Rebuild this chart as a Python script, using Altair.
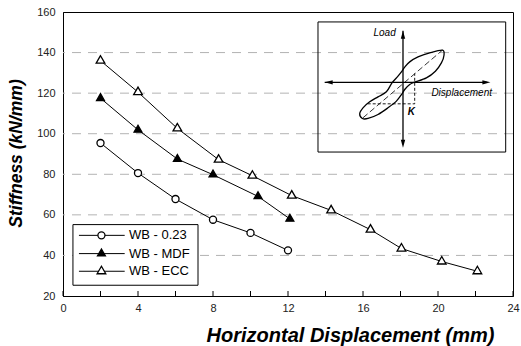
import altair as alt
import pandas as pd

FONT = "Liberation Sans"
W, H = 450, 284

# ---------------- data ----------------
series_names = ["WB - 0.23", "WB - MDF", "WB - ECC"]
x_023 = [2, 4, 6, 8, 10, 12]
y_023 = [95.4, 80.6, 67.8, 57.6, 51.1, 42.5]
x_mdf = [2, 4, 6.1, 8, 10.4, 12.1]
y_mdf = [117.5, 101.9, 87.5, 79.8, 69.1, 58.0]
x_ecc = [2, 4, 6.1, 8.3, 10.1, 12.2, 14.3, 16.4, 18.05, 20.2, 22.1]
y_ecc = [136.0, 120.5, 102.6, 87.2, 79.3, 69.5, 62.2, 52.7, 43.4, 37.0, 32.2]

x_tick_vals = list(range(0, 25, 2))
x_label_vals = [0, 4, 8, 12, 16, 20, 24]
y_label_vals = [20, 40, 60, 80, 100, 120, 140, 160]
grid_vals = [40, 60, 80, 100, 120, 140]

# legend placement (data units)
leg_box_x = [0.53, 7.2]
leg_box_y = [25.3, 55.2]
leg_rows_y = [49.9, 40.9, 32.2]
leg_line_x = [0.85, 3.29]
leg_mark_x = 2.05
leg_text_x = 3.52

# inset schematic (own units), placed on the main axes
inset_cx, inset_cy = 18.133, 125.32
inset_ux, inset_uy = 1 / 18.75, 1 / 2.032
inset_box_u = [-85, 102.7]
inset_box_v = [-69.8, 60.5]
haxis_u = [-78.3, 84.0]
vaxis_v = [-62.0, 51.8]
loop_u = [-40.6, -43.3, -40, -33.3, -25, -16.6, -11, -5, -1, 1.7, 6.7, 15, 26.7, 39.4,
          41, 38.4, 32.4, 23.4, 11.7, 6.7, 1.7, -1, -6.6, -15, -25, -35]
loop_v = [-36.2, -31.5, -25.5, -19.5, -14.5, -9.5, -0.5, 6.2, 11.2, 15.2, 20.5, 25.5, 29.5, 32.2,
          27.2, 19.5, 11.2, 4.5, 0.2, -2.2, -7.2, -11.5, -18.8, -25.5, -32.2, -36.2]
diag_u = [-40, 39.4]
diag_v = [-35.5, 32.2]
tri_u = [-35.3, 11.7, 11.7]
tri_v = [-21.5, -21.5, 9]


def iu(u):
    return [inset_cx + a * inset_ux for a in u]


def iv(v):
    return [inset_cy + b * inset_uy for b in v]


df = pd.concat([
    pd.DataFrame({"series": series_names[0], "x": x_023, "y": y_023}),
    pd.DataFrame({"series": series_names[1], "x": x_mdf, "y": y_mdf}),
    pd.DataFrame({"series": series_names[2], "x": x_ecc, "y": y_ecc}),
])

xs = alt.Scale(domain=[0, 24], nice=False, zero=False)
ys = alt.Scale(domain=[20, 160], nice=False, zero=False)

shape_scale = alt.Scale(domain=series_names, range=["circle", "triangle", "triangle"])
fill_scale = alt.Scale(domain=series_names, range=["white", "black", "white"])
size_scale = alt.Scale(domain=series_names, range=[50, 75, 75])

x_axis = alt.Axis(
    values=x_label_vals, title="Horizontal Displacement (mm)", ticks=False, grid=False,
    domainColor="black", domainWidth=1, labelFontSize=11, labelColor="#222222", labelFont=FONT,
    labelPadding=6, labelFlush=False, labelOverlap=False,
    titleFont=FONT, titleFontSize=20, titleFontWeight="bold", titleFontStyle="italic",
    titleX=287, titleY=45, titleAlign="center", titleBaseline="alphabetic", titleColor="black",
)
y_axis = alt.Axis(
    values=y_label_vals, title="Stiffness (kN/mm)", ticks=False, grid=False,
    domainColor="black", domainWidth=1, labelFontSize=11, labelColor="#222222", labelFont=FONT,
    labelPadding=8, labelFlush=False, labelOverlap=False,
    titleFont=FONT, titleFontSize=17.5, titleFontWeight="bold", titleFontStyle="italic",
    titleX=-42, titleY=141, titleAngle=-90, titleAlign="center", titleBaseline="alphabetic",
    titleColor="black",
)


def X(f="x"):
    return alt.X(f"{f}:Q", scale=xs, axis=x_axis)


def Y(f="y"):
    return alt.Y(f"{f}:Q", scale=ys, axis=y_axis)


grid = alt.Chart(pd.DataFrame({"y": grid_vals})).mark_rule(
    color="#b3b3b3", strokeDash=[9, 7], strokeWidth=1
).encode(y=Y())

ticks = alt.Chart(pd.DataFrame({"x": x_tick_vals})).mark_rule(
    color="black", strokeWidth=1
).encode(x=X(), y=alt.value(H), y2=alt.value(H - 5))

lines = alt.Chart(df).mark_line(color="black", strokeWidth=1).encode(
    x=X(), y=Y(), detail="series:N",
)

points = alt.Chart(df).mark_point(filled=True, stroke="black", strokeWidth=1.3, opacity=1).encode(
    x=X(), y=Y(),
    shape=alt.Shape("series:N", scale=shape_scale, legend=None),
    fill=alt.Fill("series:N", scale=fill_scale, legend=None),
    size=alt.Size("series:N", scale=size_scale, legend=None),
)

# ---------------- inset ----------------
inset_box = alt.Chart(pd.DataFrame({
    "x": [iu(inset_box_u)[0]], "x2": [iu(inset_box_u)[1]],
    "y": [iv(inset_box_v)[0]], "y2": [iv(inset_box_v)[1]],
})).mark_rect(fillOpacity=0, stroke="black", strokeWidth=1).encode(
    x=X(), x2="x2:Q", y=Y(), y2="y2:Q")

haxis = alt.Chart(pd.DataFrame({
    "x": [iu(haxis_u)[0]], "x2": [iu(haxis_u)[1]], "y": [iv([0])[0]]
})).mark_rule(color="black", strokeWidth=1.3).encode(x=X(), x2="x2:Q", y=Y())
vaxis = alt.Chart(pd.DataFrame({
    "x": [iu([0])[0]], "y": [iv(vaxis_v)[0]], "y2": [iv(vaxis_v)[1]]
})).mark_rule(color="black", strokeWidth=1.3).encode(x=X(), y=Y(), y2="y2:Q")

arrow_shapes = {
    "right": ("M-1,-0.55L1,0L-1,0.55Z", 87.4 - 4, 0),
    "left": ("M1,-0.55L-1,0L1,0.55Z", -78.3 + 4, 0),
    "up": ("M-0.55,1L0,-1L0.55,1Z", 0, 51.8 - 4),
    "down": ("M-0.55,-1L0,1L0.55,-1Z", 0, -65.5 + 4),
}
arrows = []
for path, au, av in arrow_shapes.values():
    arrows.append(
        alt.Chart(pd.DataFrame({"x": iu([au]), "y": iv([av])})).mark_point(
            shape=path, filled=True, color="black", size=64, opacity=1
        ).encode(x=X(), y=Y())
    )

loop = alt.Chart(pd.DataFrame({"x": iu(loop_u), "y": iv(loop_v), "o": list(range(len(loop_u)))})).mark_line(
    color="black", strokeWidth=1.3, interpolate="cardinal-closed"
).encode(x=X(), y=Y(), order="o:Q")

diag = alt.Chart(pd.DataFrame({"x": iu(diag_u), "y": iv(diag_v), "o": [0, 1]})).mark_line(
    color="black", strokeWidth=0.8, strokeDash=[6, 3]
).encode(x=X(), y=Y(), order="o:Q")

tri = alt.Chart(pd.DataFrame({"x": iu(tri_u), "y": iv(tri_v), "o": [0, 1, 2]})).mark_line(
    color="black", strokeWidth=0.9, strokeDash=[3, 2]
).encode(x=X(), y=Y(), order="o:Q")

load_text = alt.Chart(pd.DataFrame({"x": iu([-7.3]), "y": iv([49.5]), "t": ["Load"]})).mark_text(
    font=FONT, fontSize=10, fontStyle="italic", baseline="middle", align="right", color="black"
).encode(x=X(), y=Y(), text="t:N")
disp_text = alt.Chart(pd.DataFrame({"x": iu([28.4]), "y": iv([-10.5]), "t": ["Displacement"]})).mark_text(
    font=FONT, fontSize=10, fontStyle="italic", baseline="middle", align="left", color="black"
).encode(x=X(), y=Y(), text="t:N")
k_text = alt.Chart(pd.DataFrame({"x": iu([8.4]), "y": iv([-29.8]), "t": ["K"]})).mark_text(
    font=FONT, fontSize=10, fontStyle="italic", fontWeight="bold", baseline="middle", align="center",
    color="black"
).encode(x=X(), y=Y(), text="t:N")

# ---------------- legend ----------------
leg_box = alt.Chart(pd.DataFrame({
    "x": [leg_box_x[0]], "x2": [leg_box_x[1]], "y": [leg_box_y[0]], "y2": [leg_box_y[1]]
})).mark_rect(fill="white", stroke="black", strokeWidth=1).encode(
    x=X(), x2="x2:Q", y=Y(), y2="y2:Q")

leg_df = pd.DataFrame({
    "series": series_names, "y": leg_rows_y,
    "x": [leg_line_x[0]] * 3, "x2": [leg_line_x[1]] * 3,
    "xm": [leg_mark_x] * 3, "xt": [leg_text_x] * 3,
})
leg_lines = alt.Chart(leg_df).mark_rule(color="black", strokeWidth=1).encode(
    x=X(), x2="x2:Q", y=Y())
leg_pts = alt.Chart(leg_df).mark_point(filled=True, stroke="black", strokeWidth=1.3, opacity=1).encode(
    x=X("xm"), y=Y(),
    shape=alt.Shape("series:N", scale=shape_scale, legend=None),
    fill=alt.Fill("series:N", scale=fill_scale, legend=None),
    size=alt.Size("series:N", scale=size_scale, legend=None),
)
leg_txt = alt.Chart(leg_df).mark_text(
    font=FONT, fontSize=13, align="left", baseline="middle", color="black"
).encode(x=X("xt"), y=Y(), text="series:N")

chart = alt.layer(
    grid, ticks, inset_box, diag, tri, loop, haxis, vaxis, *arrows,
    load_text, disp_text, k_text,
    lines, points, leg_box, leg_lines, leg_pts, leg_txt,
).properties(
    width=W, height=H,
    autosize=alt.AutoSizeParams(type="none"),
    padding={"left": 63, "top": 12, "right": 8, "bottom": 50},
    background="white",
).configure_view(
    stroke="black", strokeWidth=1
).configure_axis(
    labelFont=FONT, titleFont=FONT
)

chart.save("out.html", embed_options={"renderer": "svg", "actions": False})
